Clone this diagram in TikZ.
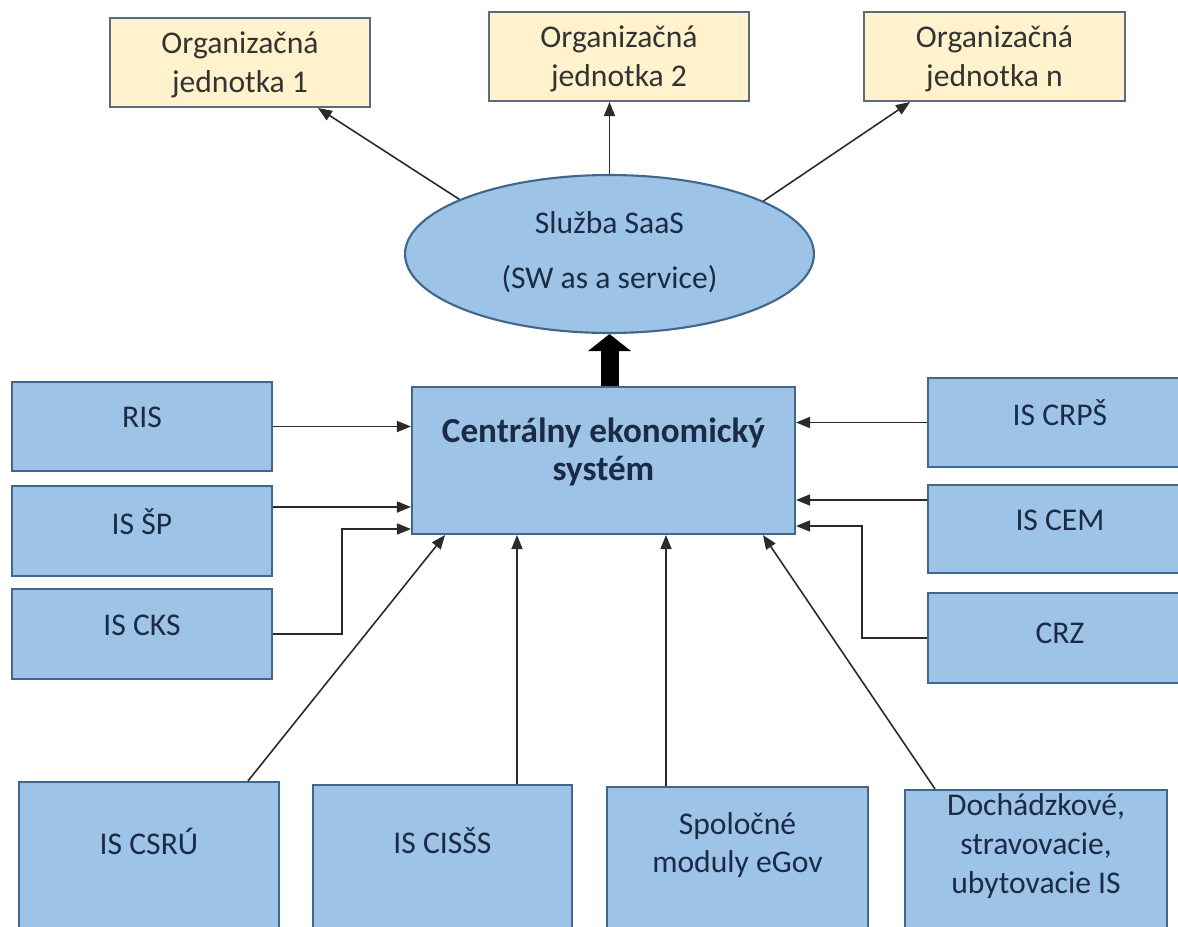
\documentclass[tikz,border=0pt]{standalone}
\usepackage{fontspec}
\setmainfont{Carlito}
\usetikzlibrary{arrows.meta,shapes.geometric,calc}
\definecolor{boxblue}{HTML}{9DC3E6}
\definecolor{boxedge}{HTML}{41678C}
\definecolor{ojfill}{HTML}{FFF2CC}
\definecolor{ojedge}{HTML}{5B6B7C}
\definecolor{navy}{HTML}{1C2B45}
\definecolor{ojtext}{HTML}{333333}
\definecolor{linegray}{HTML}{2A2A2A}
\begin{document}
\begin{tikzpicture}[x=0.02cm,y=-0.02cm,
  bluebox/.style={draw=boxedge,fill=boxblue,line width=1.2pt,rectangle,inner sep=0pt},
  ojbox/.style={draw=ojedge,fill=ojfill,line width=1.2pt,rectangle,inner sep=0pt},
  lbl/.style={text=navy,font=\fontsize{18}{22}\selectfont,align=center,inner sep=0pt},
  ojlbl/.style={text=ojtext,font=\fontsize{18}{22}\selectfont,align=center,inner sep=0pt},
  conn/.style={draw=linegray,line width=0.9pt,-{Triangle[length=0.28cm,width=0.22cm]}},
  fatarrow/.style={draw=black,line width=0.36cm,-{Triangle[length=0.34cm,width=0.84cm]}}
]
\fill[white] (0,0) rectangle (1178,927);
\useasboundingbox (0,0) rectangle (1178,927);

% top organisational units
\node[ojbox,minimum width=5.2cm,minimum height=1.78cm] (oj1) at (240,62.5) {};
\node[ojlbl] (oj1t) at (240,65) {Organizačná\\jednotka 1};
\node[ojbox,minimum width=5.2cm,minimum height=1.78cm] (oj2) at (619,56.5) {};
\node[ojlbl] (oj2t) at (619,59) {Organizačná\\jednotka 2};
\node[ojbox,minimum width=5.22cm,minimum height=1.78cm] (ojn) at (994.5,56.5) {};
\node[ojlbl] (ojnt) at (994.5,59) {Organizačná\\jednotka n};

% SaaS ellipse
\node[ellipse,draw=boxedge,fill=boxblue,line width=1.2pt,inner sep=0pt,
      minimum width=8.18cm,minimum height=3.16cm] (sa) at (609.5,254) {};
\node[lbl,font=\fontsize{18}{31}\selectfont] (sat) at (609.5,252) {Služba SaaS\\(SW as a service)};

% central system
\node[bluebox,minimum width=7.66cm,minimum height=2.94cm] (ces) at (603.5,460.5) {};
\node[lbl,font=\bfseries\fontsize{20}{22}\selectfont] (cest) at (603.5,452) {Centrálny ekonomický\\systém};

% left boxes
\node[bluebox,minimum width=5.2cm,minimum height=1.78cm] (ris) at (142,426.5) {};
\node[lbl] (rist) at (142,417) {RIS};
\node[bluebox,minimum width=5.2cm,minimum height=1.8cm] (sp) at (142,531) {};
\node[lbl] (spt) at (142,522) {IS ŠP};
\node[bluebox,minimum width=5.2cm,minimum height=1.8cm] (cks) at (142,634) {};
\node[lbl] (ckst) at (142,625) {IS CKS};

% right boxes
\node[bluebox,minimum width=5.28cm,minimum height=1.78cm] (crps) at (1060,422.5) {};
\node[lbl] (crpst) at (1060,413) {IS CRPŠ};
\node[bluebox,minimum width=5.28cm,minimum height=1.76cm] (cem) at (1060,529) {};
\node[lbl] (cemt) at (1060,520) {IS CEM};
\node[bluebox,minimum width=5.28cm,minimum height=1.8cm] (crz) at (1060,638) {};
\node[lbl] (crzt) at (1060,633) {CRZ};

% bottom boxes
\node[bluebox,minimum width=5.2cm,minimum height=3.06cm] (csru) at (149,858.5) {};
\node[lbl] (csrut) at (149,841) {IS CSRÚ};
\node[bluebox,minimum width=5.18cm,minimum height=3.0cm] (ciss) at (442.5,860) {};
\node[lbl] (cisst) at (442.5,841) {IS CISŠS};
\node[bluebox,minimum width=5.22cm,minimum height=2.96cm] (spol) at (737.5,861) {};
\node[lbl] (spolt) at (737.5,845) {Spoločné\\moduly eGov};
\node[bluebox,minimum width=5.24cm,minimum height=2.9cm] (doch) at (1036,862.5) {};
\node[lbl] (docht) at (1036,846) {Dochádzkové,\\stravovacie,\\ubytovacie IS};

% connectors top
\draw[conn] (sa.160) -- ([xshift=1.56cm]oj1.south);
\draw[conn] (sa.north) -- (sa.north |- oj2.south);
\draw[conn] (sa.19) -- ([xshift=-1.69cm]ojn.south);
\draw[fatarrow] (sa.south |- ces.north) -- (sa.south);

% connectors left
\draw[conn] (ris.east) -- (ris.east -| ces.west);
\draw[conn] ([yshift=0.48cm]sp.east) coordinate (spe) -- (spe -| ces.west);
\coordinate (ckbend) at (342,529);
\draw[conn] (cks.east) -| (ckbend) -- (ckbend -| ces.west);

% connectors right
\draw[conn] (crps.west) -- (crps.west -| ces.east);
\draw[conn] ([yshift=0.58cm]cem.west) coordinate (ceme) -- (ceme -| ces.east);
\coordinate (crzbend) at (862,526);
\draw[conn] (crz.west) -| (crzbend) -- (crzbend -| ces.east);

% connectors bottom
\draw[conn] ([xshift=1.98cm]csru.north) -- ([xshift=-3.17cm]ces.south);
\draw[conn] ([xshift=1.49cm]ciss.north) coordinate (cissn) -- (cissn |- ces.south);
\draw[conn] ([xshift=-1.43cm]spol.north) coordinate (spoln) -- (spoln |- ces.south);
\draw[conn] ([xshift=-2.02cm]doch.north) -- ([xshift=3.19cm]ces.south);
\end{tikzpicture}
\end{document}
